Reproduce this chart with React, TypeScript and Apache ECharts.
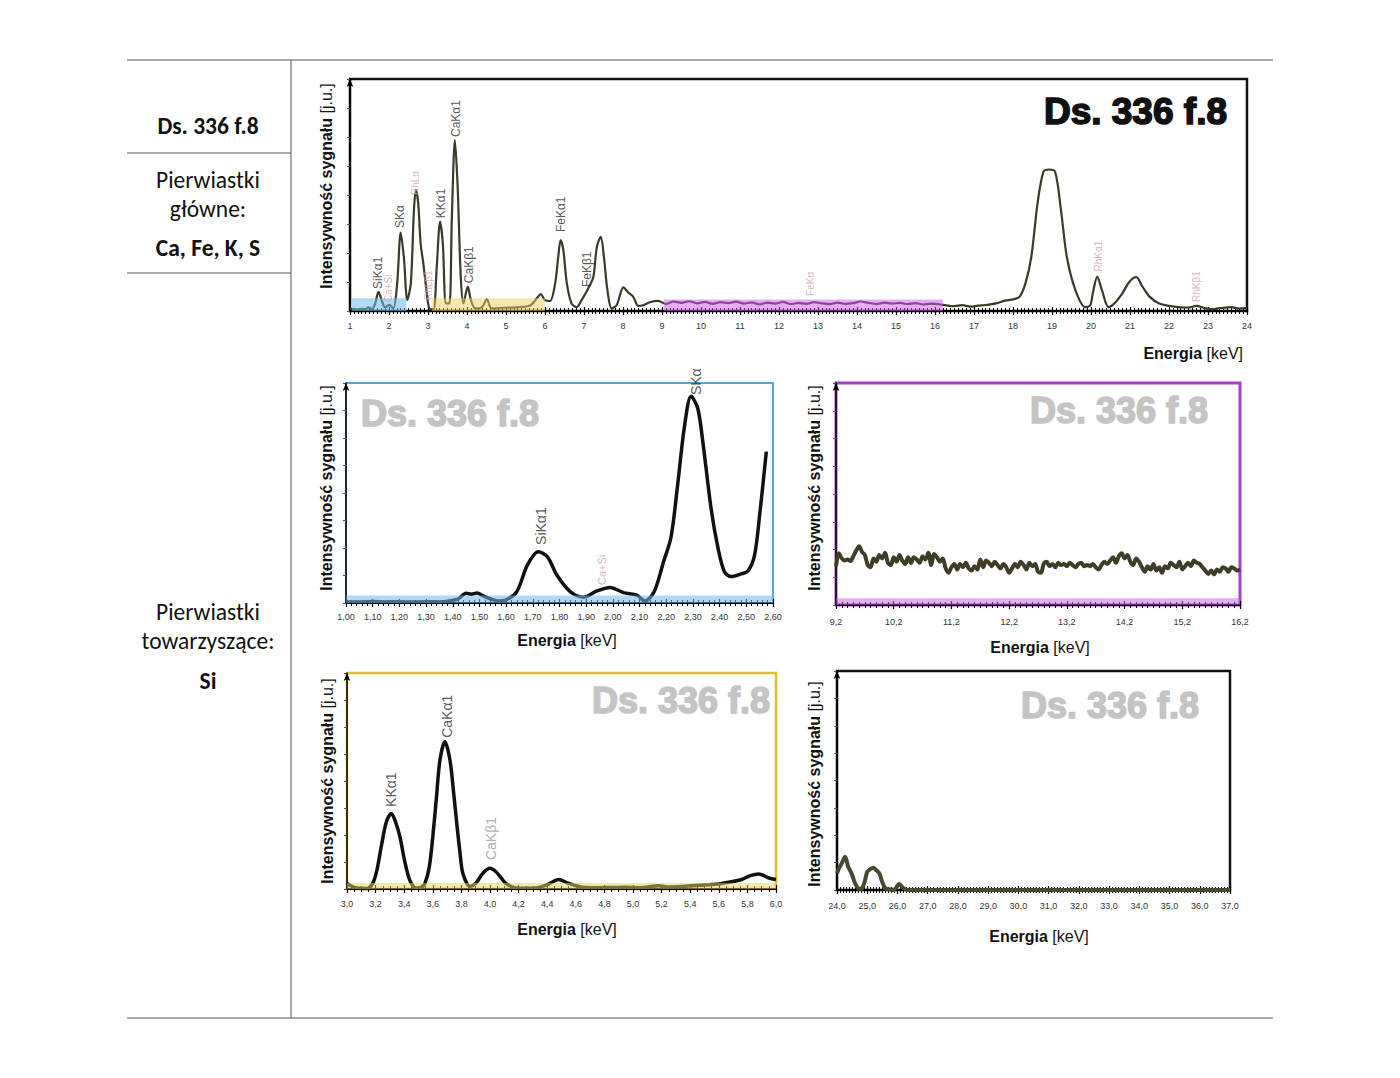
import { useEffect, useRef } from "react";
import * as echarts from "echarts";

// ---------------- DATA ----------------
// Overview spectrum 1–24 keV  [energy keV, intensity (arb. units, 0–100 of plot height)]
const overviewSpectrum: number[][] = [
  [1.0, 0.7], [1.1, 0.8], [1.2, 0.6], [1.3, 0.9], [1.4, 0.8], [1.47, 1.6], [1.56, 0.7], [1.65, 3.5],
  [1.73, 8.3], [1.81, 4.7], [1.9, 1.6], [2.01, 2.6], [2.11, 1.1], [2.21, 11.9], [2.3, 33.8], [2.38, 23.4],
  [2.47, 4.7], [2.56, 12.0], [2.64, 43.5], [2.69, 52.2], [2.75, 46.4], [2.81, 29.2], [2.88, 20.5],
  [2.95, 10.5], [3.03, 1.2], [3.14, 0.7], [3.22, 17.7], [3.31, 38.5], [3.38, 29.2], [3.46, 3.3],
  [3.55, 3.3], [3.61, 39.2], [3.69, 73.7], [3.76, 53.6], [3.84, 14.8], [3.91, 3.3], [4.02, 10.5],
  [4.1, 4.7], [4.21, 1.1], [4.38, 1.6], [4.51, 5.0], [4.63, 1.1], [4.93, 1.4], [5.27, 1.6], [5.62, 2.4],
  [5.79, 5.5], [5.89, 7.3], [6.0, 4.7], [6.13, 4.3], [6.26, 11.9], [6.34, 23.4], [6.4, 30.6], [6.47, 26.3],
  [6.56, 11.9], [6.68, 3.3], [6.81, 1.6], [6.94, 4.7], [7.11, 9.8], [7.24, 14.8], [7.33, 27.7], [7.43, 32.0],
  [7.51, 23.4], [7.6, 9.0], [7.71, 1.1], [7.84, 2.6], [8.01, 10.2], [8.14, 7.9], [8.26, 6.2], [8.39, 2.2],
  [8.52, 2.5], [8.69, 3.8], [8.9, 4.4], [9.1, 3.0], [9.3, 4.1], [9.5, 3.5], [9.7, 4.2], [9.9, 3.3],
  [10.1, 3.9], [10.3, 3.1], [10.5, 3.8], [10.7, 3.4], [10.9, 4.0], [11.1, 3.2], [11.3, 3.7], [11.5, 2.9],
  [11.7, 3.6], [11.9, 3.2], [12.1, 3.9], [12.3, 3.0], [12.5, 3.5], [12.7, 3.1], [12.9, 3.8], [13.1, 3.3],
  [13.3, 3.0], [13.5, 3.6], [13.7, 3.1], [13.9, 3.4], [14.1, 4.1], [14.3, 3.5], [14.5, 3.0], [14.7, 3.6],
  [14.9, 3.2], [15.1, 3.5], [15.3, 3.0], [15.5, 3.4], [15.7, 2.8], [15.9, 3.2], [16.1, 2.9], [16.3, 2.4],
  [16.5, 2.1], [16.7, 2.5], [16.9, 1.9], [17.1, 2.3], [17.3, 2.6], [17.56, 3.3], [17.8, 4.5], [18.0, 5.0],
  [18.17, 6.2], [18.32, 12.0], [18.47, 23.4], [18.63, 46.5], [18.78, 60.0], [18.92, 61.0], [19.08, 60.0],
  [19.23, 43.5], [19.38, 23.4], [19.6, 9.0], [19.85, 1.7], [19.98, 2.5], [20.05, 8.0], [20.16, 14.8],
  [20.28, 9.0], [20.45, 1.7], [20.6, 3.3], [20.8, 7.5], [20.98, 12.5], [21.16, 14.6], [21.32, 10.5],
  [21.5, 6.2], [21.75, 3.2], [22.0, 2.2], [22.3, 1.6], [22.5, 1.5], [22.7, 2.2], [22.9, 1.3], [23.1, 0.8],
  [23.3, 1.2], [23.6, 1.7], [23.8, 1.0], [24.0, 1.2],
];

// Zoom 1.00–2.60 keV (Si region)
const siRegionSpectrum: number[][] = [
  [1.0, 0.6], [1.05, 0.4], [1.1, 0.7], [1.15, 0.5], [1.2, 0.6], [1.25, 0.4], [1.3, 0.6], [1.35, 0.5],
  [1.4, 1.2], [1.42, 1.8], [1.45, 4.4], [1.47, 4.0], [1.49, 4.5], [1.52, 2.9], [1.55, 1.5], [1.57, 0.9],
  [1.6, 1.4], [1.64, 5.2], [1.68, 17.3], [1.72, 23.3], [1.755, 21.0], [1.79, 12.7], [1.84, 5.2],
  [1.89, 2.6], [1.94, 5.5], [1.99, 7.1], [2.04, 4.7], [2.09, 3.6], [2.12, 0.9], [2.155, 5.2], [2.19, 18.8],
  [2.218, 30.0], [2.243, 54.0], [2.268, 80.0], [2.293, 94.0], [2.318, 88.5], [2.337, 73.3], [2.368, 43.0],
  [2.394, 24.9], [2.418, 14.2], [2.443, 12.0], [2.48, 13.2], [2.506, 14.5], [2.531, 21.8], [2.55, 40.0],
  [2.575, 68.8],
];

// Zoom 9.2–16.2 keV
const midRegionSpectrum: number[][] = [
  [9.2, 17.5], [9.25, 23.3], [9.3, 21.0], [9.35, 20.0], [9.4, 20.5], [9.45, 19.8], [9.5, 22.0], [9.55, 24.5],
  [9.6, 26.5], [9.65, 24.0], [9.7, 22.5], [9.75, 18.0], [9.8, 17.0], [9.85, 21.0], [9.9, 19.5], [9.95, 22.5],
  [10.0, 21.0], [10.05, 23.5], [10.1, 19.0], [10.15, 18.0], [10.2, 21.5], [10.25, 19.5], [10.3, 22.5],
  [10.35, 20.0], [10.4, 18.5], [10.45, 21.5], [10.5, 19.0], [10.55, 21.5], [10.6, 20.5], [10.65, 19.0],
  [10.7, 22.0], [10.75, 20.5], [10.8, 23.5], [10.85, 18.0], [10.9, 23.0], [10.95, 21.5], [11.0, 19.5],
  [11.05, 21.0], [11.1, 16.5], [11.15, 14.5], [11.2, 17.0], [11.25, 18.5], [11.3, 16.0], [11.35, 18.5],
  [11.4, 17.0], [11.45, 19.0], [11.5, 16.5], [11.55, 15.5], [11.6, 17.5], [11.65, 16.0], [11.7, 20.5],
  [11.75, 17.0], [11.8, 20.0], [11.85, 19.0], [11.9, 17.5], [11.95, 19.5], [12.0, 18.0], [12.05, 16.5],
  [12.1, 18.5], [12.15, 17.0], [12.2, 14.5], [12.25, 16.5], [12.3, 18.5], [12.35, 17.0], [12.4, 19.5],
  [12.45, 18.0], [12.5, 16.0], [12.55, 19.0], [12.6, 17.5], [12.65, 18.5], [12.7, 15.0], [12.75, 14.5],
  [12.8, 18.5], [12.85, 19.5], [12.9, 17.5], [12.95, 18.5], [13.0, 17.0], [13.05, 19.0], [13.1, 18.0],
  [13.15, 18.5], [13.2, 17.5], [13.25, 19.0], [13.3, 18.0], [13.35, 17.0], [13.4, 18.5], [13.45, 19.0],
  [13.5, 17.5], [13.55, 18.0], [13.6, 17.5], [13.65, 18.5], [13.7, 17.0], [13.75, 16.0], [13.8, 18.0],
  [13.85, 19.5], [13.9, 18.5], [13.95, 20.0], [14.0, 21.5], [14.05, 19.0], [14.1, 22.0], [14.15, 23.3],
  [14.2, 21.0], [14.25, 22.5], [14.3, 19.5], [14.35, 18.0], [14.4, 21.0], [14.45, 19.5], [14.5, 17.0],
  [14.55, 15.0], [14.6, 17.5], [14.65, 16.0], [14.7, 18.5], [14.75, 15.5], [14.8, 17.0], [14.85, 14.5],
  [14.9, 17.5], [14.95, 16.5], [15.0, 19.0], [15.05, 18.0], [15.1, 17.0], [15.15, 19.5], [15.2, 16.0],
  [15.25, 17.5], [15.3, 19.0], [15.35, 17.5], [15.4, 20.0], [15.45, 19.0], [15.5, 18.5], [15.55, 17.0],
  [15.6, 15.5], [15.65, 14.0], [15.7, 15.5], [15.75, 13.8], [15.8, 16.0], [15.85, 15.0], [15.9, 17.0],
  [15.95, 16.5], [16.0, 15.0], [16.05, 17.0], [16.1, 16.5], [16.15, 15.5], [16.2, 16.0],
];

// Zoom 3.0–6.0 keV (K / Ca region)
const caRegionSpectrum: number[][] = [
  [3.0, 2.6], [3.04, 1.0], [3.07, 0.5], [3.1, 0.3], [3.14, 0.2], [3.18, 2.6], [3.21, 9.0], [3.24, 19.8],
  [3.275, 31.0], [3.31, 35.0], [3.34, 31.0], [3.37, 24.2], [3.4, 14.0], [3.43, 5.7], [3.46, 1.5],
  [3.49, 0.3], [3.52, 0.8], [3.545, 2.6], [3.575, 10.0], [3.6, 24.2], [3.625, 42.0], [3.65, 59.7],
  [3.685, 68.2], [3.72, 59.7], [3.745, 45.0], [3.77, 28.8], [3.79, 17.0], [3.81, 7.3], [3.86, 1.2],
  [3.9, 2.6], [3.95, 7.3], [4.0, 9.6], [4.04, 8.1], [4.08, 5.0], [4.11, 2.6], [4.18, 0.5], [4.25, 0.4],
  [4.32, 0.5], [4.41, 2.3], [4.48, 4.4], [4.55, 2.6], [4.65, 0.8], [4.75, 0.6], [4.85, 0.7], [4.95, 0.8],
  [5.05, 0.6], [5.18, 1.5], [5.25, 0.9], [5.35, 1.2], [5.41, 1.5], [5.53, 2.0], [5.6, 2.3], [5.67, 3.1],
  [5.76, 4.4], [5.82, 6.2], [5.88, 7.0], [5.95, 5.1], [6.0, 4.4],
];

// Zoom 24–37 keV
const highRegionSpectrum: number[][] = [
  [24.0, 7.6], [24.07, 10.0], [24.15, 12.0], [24.27, 15.2], [24.37, 10.6], [24.48, 7.6], [24.6, 3.0],
  [24.7, 0.8], [24.8, 0.5], [24.9, 3.0], [25.0, 8.3], [25.1, 9.5], [25.2, 10.2], [25.3, 9.0], [25.4, 7.6],
  [25.5, 3.5], [25.6, 0.8], [25.75, 0.3], [25.87, 0.0], [25.95, 1.0], [26.05, 2.7], [26.15, 1.5],
  [26.25, 0.3], [26.5, 0.0], [27, 0], [28, 0], [29, 0], [30, 0], [31, 0], [32, 0], [33, 0], [34, 0],
  [35, 0], [36, 0], [37, 0],
];

// Peak labels: [name, energy, label base intensity, kind]
const overviewPeaks: [string, number, number, string][] = [
  ["SiKα1", 1.72, 9.5, "main"], ["Ca+Si", 1.98, 3.9, "rh"], ["SKα", 2.28, 35.8, "main"],
  ["RhLα", 2.69, 50, "rh"], ["RhLβ1", 3.0, 4.7, "rh"], ["KKα1", 3.33, 40, "main"],
  ["CaKα1", 3.72, 75, "main"], ["CaKβ1", 4.05, 12, "main"], ["FeKα1", 6.41, 34, "main"],
  ["FeKβ1", 7.08, 10.3, "main"], ["FeKα", 12.8, 6.5, "rh"], ["RhKα1", 20.18, 17, "rh"],
  ["RhKβ1", 22.7, 3.9, "rh"],
];
const siPeaks: [string, number, number, string][] = [
  ["SiKα1", 1.73, 26.4, "main"], ["Ca+Si", 1.96, 8.2, "rh"], ["SKα", 2.31, 94.5, "main"],
];
const caPeaks: [string, number, number, string][] = [
  ["KKα1", 3.31, 38, "main"], ["CaKα1", 3.7, 70, "main"], ["CaKβ1", 4.01, 13.4, "grey"],
];
const midPeaks: [string, number, number, string][] = [];
const highPeaks: [string, number, number, string][] = [];

// Zoom-range marker bands: [key, from keV, to keV, height]
const overviewBands: [string, number, number, number][] = [
  ["si", 1.05, 2.45, 5.5], ["ca", 3.1, 6.0, 5.5], ["mid", 9.05, 16.2, 5.0],
];
const siBands: [string, number, number, number][] = [["si", 1.0, 2.6, 3.4]];
const midBands: [string, number, number, number][] = [["mid", 9.2, 16.2, 3.0]];
const caBands: [string, number, number, number][] = [["ca", 3.0, 6.0, 2.8]];
const highBands: [string, number, number, number][] = [];

// Table texts
const sampleName = "Ds. 336 f.8";
const mainElementsTitle = ["Pierwiastki", "główne:"];
const mainElements = "Ca, Fe, K, S";
const traceElementsTitle = ["Pierwiastki", "towarzyszące:"];
const traceElements = "Si";

// ---------------- STYLE ----------------
const SANS = '"Liberation Sans", Arial, sans-serif';
const TABLE_FONT = 'Carlito, Lato, "Open Sans", sans-serif';
const bandFill: Record<string, string> = {
  si: "rgba(110,185,235,0.55)",
  ca: "rgba(238,208,95,0.5)",
  mid: "rgba(205,90,235,0.5)",
};

const panels = [
  {
    grid: { left: 350, top: 79, width: 897, height: 232 },
    min: 1, max: 24, step: 1, dec: 0, minor: 10, border: "#111", borderWidth: 2.5,
    data: overviewSpectrum, lineColor: "#3b3a2a", lineWidth: 2.2, peaks: overviewPeaks,
    bands: overviewBands, labelMargin: 10, peakSizes: { main: 12, rh: 10, grey: 12 },
  },
  {
    grid: { left: 346, top: 383, width: 427, height: 220 },
    min: 1.0, max: 2.6, step: 0.1, dec: 2, minor: 5, border: "#5aa7d6", borderWidth: 2,
    data: siRegionSpectrum, lineColor: "#111", lineWidth: 3.5, peaks: siPeaks,
    bands: siBands, labelMargin: 9, peakSizes: { main: 14, rh: 11, grey: 14 },
  },
  {
    grid: { left: 836, top: 383, width: 404, height: 222 },
    min: 9.2, max: 16.2, step: 1, dec: 1, minor: 10, border: "#a23fcb", borderWidth: 3,
    data: midRegionSpectrum, lineColor: "#3f3d28", lineWidth: 4, peaks: midPeaks,
    bands: midBands, labelMargin: 12, peakSizes: { main: 14, rh: 11, grey: 14 },
  },
  {
    grid: { left: 347, top: 673, width: 429, height: 216 },
    min: 3.0, max: 6.0, step: 0.2, dec: 1, minor: 4, border: "#dcbf35", borderWidth: 2.5,
    data: caRegionSpectrum, lineColor: "#111", lineWidth: 3.5, peaks: caPeaks,
    bands: caBands, labelMargin: 10, peakSizes: { main: 14, rh: 11, grey: 14 },
  },
  {
    grid: { left: 837, top: 671, width: 393, height: 219 },
    min: 24, max: 37, step: 1, dec: 1, minor: 10, border: "#111", borderWidth: 2.5,
    data: highRegionSpectrum, lineColor: "#4a4830", lineWidth: 4, peaks: highPeaks,
    bands: highBands, labelMargin: 11, peakSizes: { main: 14, rh: 11, grey: 14 },
  },
];

const peakColor: Record<string, string> = { main: "#2a2a2a", rh: "#cfa0a6", grey: "#9a9a9a" };

function buildOption() {
  const grid: any[] = [];
  const xAxis: any[] = [];
  const yAxis: any[] = [];
  const series: any[] = [];

  panels.forEach((p, i) => {
    grid.push({
      ...p.grid, show: true, borderColor: p.border, borderWidth: p.borderWidth,
      backgroundColor: "#fff", containLabel: false,
    });
    const fmt = (v: number) => v.toFixed(p.dec).replace(".", ",");
    xAxis.push({
      type: "value", gridIndex: i, position: "bottom", min: p.min, max: p.max, interval: p.step,
      axisLine: { show: true, onZero: false, lineStyle: { color: "#000", width: 2 } },
      axisTick: { show: true, length: 4, lineStyle: { color: "#000", width: 1.2 } },
      minorTick: { show: true, splitNumber: p.minor, length: 3, lineStyle: { color: "#000", width: 1 } },
      axisLabel: {
        show: true, margin: p.labelMargin, fontSize: 9, color: "#333", fontFamily: SANS,
        formatter: fmt, showMinLabel: true, showMaxLabel: true, hideOverlap: false,
      },
      splitLine: { show: false }, minorSplitLine: { show: false },
    });
    xAxis.push({
      type: "value", gridIndex: i, position: "bottom", min: p.min, max: p.max, interval: p.step,
      axisLine: { show: false },
      axisTick: { show: true, inside: true, length: 4, lineStyle: { color: "#000", width: 1.2 } },
      minorTick: { show: true, splitNumber: p.minor, length: 3, lineStyle: { color: "#000", width: 1 } },
      axisLabel: { show: false }, splitLine: { show: false },
    });
    yAxis.push({
      type: "value", gridIndex: i, min: 0, max: 100, interval: 12.5,
      axisLine: {
        show: true, onZero: false, lineStyle: { color: "#000", width: 1.5 },
        symbol: ["none", "arrow"], symbolSize: [5, 8],
      },
      axisTick: { show: true, length: 3, lineStyle: { color: "#555" } },
      axisLabel: { show: false }, splitLine: { show: false },
    });

    series.push({
      type: "line", xAxisIndex: 2 * i, yAxisIndex: i, data: p.data, showSymbol: false,
      smooth: 0.3, silent: true, z: 2, lineStyle: { color: p.lineColor, width: p.lineWidth },
    });
    if (p.bands.length) {
      const bands = p.bands;
      series.push({
        type: "custom", xAxisIndex: 2 * i, yAxisIndex: i, z: 3, silent: true,
        data: bands.map((b) => [b[1], b[2], b[3]]),
        renderItem: (params: any, api: any) => {
          const a = api.coord([api.value(0), api.value(2)]);
          const b = api.coord([api.value(1), 0]);
          return {
            type: "rect",
            shape: { x: a[0], y: a[1], width: b[0] - a[0], height: b[1] - a[1] },
            style: { fill: bandFill[bands[params.dataIndex][0]] },
          };
        },
      });
    }
    if (p.peaks.length) {
      series.push({
        type: "scatter", xAxisIndex: 2 * i, yAxisIndex: i, symbolSize: 0, silent: true, z: 5,
        data: p.peaks.map((k) => ({
          value: [k[1], k[2]], name: k[0],
          label: { color: peakColor[k[3]], fontSize: (p.peakSizes as any)[k[3]] },
        })),
        label: {
          show: true, formatter: "{b}", rotate: 90, position: "inside", align: "left",
          verticalAlign: "middle", fontFamily: SANS,
        },
      });
    }
  });

  const graphic: any[] = [];
  const line = (x1: number, y1: number, x2: number, y2: number) =>
    graphic.push({ type: "line", shape: { x1, y1, x2, y2 }, style: { stroke: "#555", lineWidth: 1 }, z: 10 });
  line(127, 60, 1273, 60);
  line(127, 1018, 1273, 1018);
  line(291, 60, 291, 1018);
  line(127, 153, 291, 153);
  line(127, 273, 291, 273);

  const tText = (text: string, y: number, bold: boolean) =>
    graphic.push({
      type: "text", x: 208, y, z: 10,
      style: {
        text, fill: "#111", fontFamily: TABLE_FONT, fontSize: 23.5, fontWeight: bold ? "bold" : "normal",
        align: "center", verticalAlign: "middle", textAlign: "center", textVerticalAlign: "middle",
      },
    });
  tText(sampleName, 126, true);
  tText(mainElementsTitle[0], 180, false);
  tText(mainElementsTitle[1], 209, false);
  tText(mainElements, 248, true);
  tText(traceElementsTitle[0], 612, false);
  tText(traceElementsTitle[1], 641, false);
  tText(traceElements, 681, true);

  const mark = (x: number, y: number, align: string, fill: string, size: number) =>
    graphic.push({
      type: "text", x, y, z: 10,
      style: {
        text: sampleName, fill, stroke: fill, lineWidth: 1.6, fontFamily: SANS, fontSize: size,
        fontWeight: "bold", align, verticalAlign: "middle", textAlign: align, textVerticalAlign: "middle",
      },
    });
  mark(1227, 111, "right", "#111", 37);
  mark(361, 413, "left", "#c4c4c4", 36);
  mark(1030, 410, "left", "#c4c4c4", 36);
  mark(592, 700, "left", "#c4c4c4", 36);
  mark(1021, 705, "left", "#c4c4c4", 36);

  const rich = {
    b: { fontFamily: SANS, fontSize: 16, fontWeight: "bold", fill: "#111", color: "#111" },
    n: { fontFamily: SANS, fontSize: 16, fontWeight: "normal", fill: "#111", color: "#111" },
  };
  const xTitle = (x: number, y: number, align: string) =>
    graphic.push({
      type: "text", x, y, z: 10,
      style: {
        text: "{b|Energia} {n|[keV]}", rich, fontSize: 16, fontFamily: SANS,
        align, verticalAlign: "middle", textAlign: align, textVerticalAlign: "middle",
      },
    });
  xTitle(1243, 353, "right");
  xTitle(567, 640, "center");
  xTitle(1040, 647, "center");
  xTitle(567, 929, "center");
  xTitle(1039, 936, "center");

  const yTitle = (x: number, y: number) =>
    graphic.push({
      type: "text", x, y, rotation: Math.PI / 2, z: 10,
      style: {
        text: "{b|Intensywność sygnału} {n|[j.u.]}", rich, fontSize: 16, fontFamily: SANS,
        align: "center", verticalAlign: "middle", textAlign: "center", textVerticalAlign: "middle",
      },
    });
  yTitle(326, 186);
  yTitle(326, 488);
  yTitle(814, 488);
  yTitle(327, 781);
  yTitle(814, 784);

  return { animation: false, backgroundColor: "#fff", grid, xAxis, yAxis, series, graphic };
}

export default function App() {
  const ref = useRef<HTMLDivElement>(null);
  useEffect(() => {
    if (!ref.current) return;
    const chart = echarts.init(ref.current, undefined, { renderer: "svg" });
    chart.setOption(buildOption() as any);
    return () => chart.dispose();
  }, []);
  return (
    <div
      ref={ref}
      style={{ position: "absolute", left: 0, top: 0, width: 1400, height: 1078, background: "#fff" }}
    />
  );
}
